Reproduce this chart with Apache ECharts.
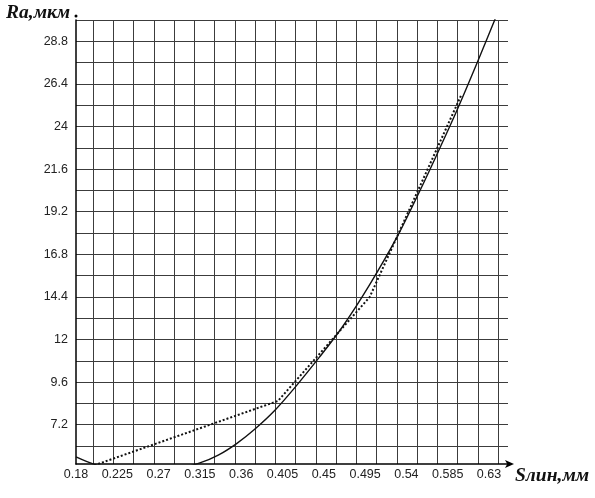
<!DOCTYPE html>
<html>
<head>
<meta charset="utf-8">
<script src="https://cdn.jsdelivr.net/npm/echarts@6/dist/echarts.min.js"></script>
<style>
html, body { margin: 0; padding: 0; background: #fff; }
#chart { width: 595px; height: 498px; }
</style>
</head>
<body>
<div id="chart"></div>
<script>
// 数据 ------------------
// 光滑曲线 (拟合)
var fitX = [0.18, 0.2, 0.225, 0.25, 0.27, 0.29, 0.315, 0.335, 0.355, 0.375, 0.397, 0.42, 0.445, 0.47, 0.5, 0.53, 0.553, 0.573, 0.595, 0.618, 0.637, 0.645];
var fitY = [5.4, 4.98, 4.7, 4.58, 4.6, 4.72, 5.06, 5.5, 6.15, 6.97, 8.04, 9.4, 11.0, 12.7, 15.1, 17.8, 20.2, 22.4, 24.9, 27.7, 30.1, 31.1];
// 点线 (实验)
var expX = [0.2, 0.4, 0.5, 0.6];
var expY = [4.93, 8.55, 14.4, 25.8];
// 坐标轴范围
var xMin = 0.18, xMax = 0.6507, xStep = 0.045;
var yMin = 5, yMax = 30, yGridMin = 6, yStep = 1.2;

function pairs(xs, ys) {
	var out = [];
	for (var i = 0; i < xs.length; i++) out.push([xs[i], ys[i]]);
	return out;
}

var chart = echarts.init(document.getElementById('chart'), null, { renderer: 'canvas' });

var gridColor = '#3c3c3c';
var labelFont = { color: '#222', fontSize: 12.5, fontFamily: 'Liberation Sans, Arial, sans-serif' };
var nameFont = 'italic bold 19.5px "Liberation Serif", "DejaVu Serif", serif';

var option = {
	animation: false,
	backgroundColor: '#fff',
	grid: [
		// 主图
		{ left: 76, right: 87, top: 20, bottom: 34 },
		// 竖线网格
		{ left: 93, right: 97, top: 20, bottom: 34 },
		// 横线网格 + y 标签
		{ left: 76, right: 87, top: 20, bottom: 52 }
	],
	xAxis: [
		{
			gridIndex: 0, type: 'value', min: xMin, max: xMax, interval: xStep,
			axisLine: { show: true, lineStyle: { color: '#000', width: 1.5 },
				symbol: ['none', 'arrow'], symbolSize: [6, 9], symbolOffset: [0, 6] },
			axisTick: { show: false },
			splitLine: { show: false },
			axisLabel: Object.assign({ margin: 4, showMaxLabel: false,
				formatter: function (v) { return String(+v.toFixed(3)); } }, labelFont)
		},
		{
			gridIndex: 1, type: 'value', min: 0, max: 20, interval: 1,
			axisLine: { show: false }, axisTick: { show: false }, axisLabel: { show: false },
			splitLine: { show: true, lineStyle: { color: gridColor, width: 1 } }
		},
		{
			gridIndex: 2, type: 'value', min: 0, max: 1, show: false
		}
	],
	yAxis: [
		{
			gridIndex: 0, type: 'value', min: yMin, max: yMax,
			axisLine: { show: true, lineStyle: { color: '#000', width: 1.5 },
				symbol: ['none', 'circle'], symbolSize: [3, 3], symbolOffset: [0, 4] },
			axisTick: { show: false }, axisLabel: { show: false },
			splitLine: { show: false }
		},
		{
			gridIndex: 1, type: 'value', min: 0, max: 1, show: false
		},
		{
			gridIndex: 2, type: 'value', min: yGridMin, max: yMax, interval: yStep,
			axisLine: { show: false }, axisTick: { show: false },
			splitLine: { show: true, lineStyle: { color: gridColor, width: 1 } },
			axisLabel: Object.assign({ margin: 8,
				formatter: function (v) {
					var t = Math.round(v * 10);
					return t % 24 === 0 ? String(t / 10) : '';
				} }, labelFont)
		}
	],
	graphic: [
		{ type: 'text', left: 6, top: 3, z: 10,
			style: { text: 'Ra,мкм', fill: '#111', font: nameFont } },
		{ type: 'text', left: 515, top: 466, z: 10,
			style: { text: 'Sлин,мм', fill: '#111', font: nameFont } }
	],
	series: [
		{
			name: 'fit', type: 'line', xAxisIndex: 0, yAxisIndex: 0,
			data: pairs(fitX, fitY), smooth: 0.3, symbol: 'none', clip: true, z: 5,
			lineStyle: { color: '#111', width: 1.4 }
		},
		{
			name: 'exp', type: 'line', xAxisIndex: 0, yAxisIndex: 0,
			data: pairs(expX, expY), smooth: false, symbol: 'none', clip: true, z: 6,
			lineStyle: { color: '#111', width: 2, type: [2, 2] }
		}
	]
};

chart.setOption(option);
</script>
</body>
</html>
